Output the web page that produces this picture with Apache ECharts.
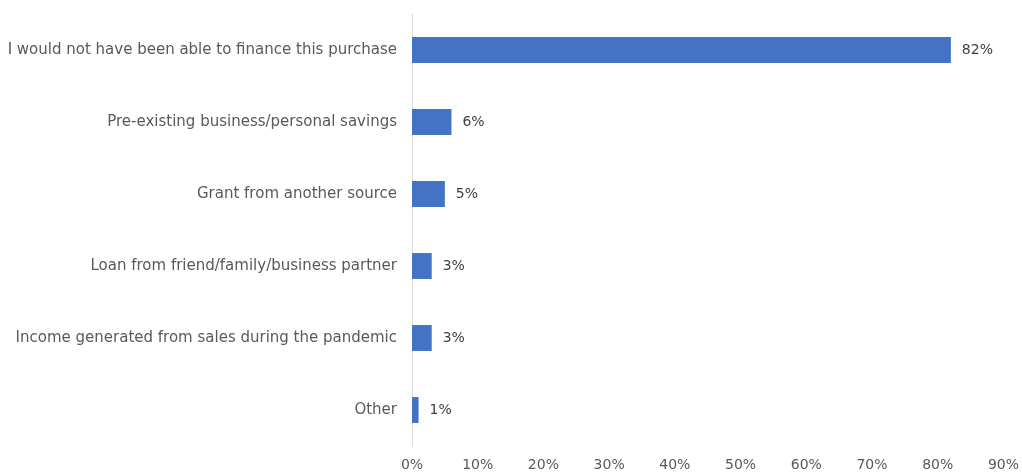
<!DOCTYPE html>
<html>
<head>
<meta charset="utf-8">
<script src="https://cdn.jsdelivr.net/npm/echarts@6/dist/echarts.min.js"></script>
<style>
  html, body { margin: 0; padding: 0; background: #fff; }
  #chart { width: 1022px; height: 475px; }
</style>
</head>
<body>
<div id="chart"></div>
<script>
// Funding sources, listed top to bottom
const categories = [
  'I would not have been able to finance this purchase',
  'Pre-existing business/personal savings',
  'Grant from another source',
  'Loan from friend/family/business partner',
  'Income generated from sales during the pandemic',
  'Other'
];
const shares = [82, 6, 5, 3, 3, 1];
const xTicks = [0, 10, 20, 30, 40, 50, 60, 70, 80, 90];

const FONT = '"DejaVu Sans", "Open Sans", sans-serif';

const chart = echarts.init(document.getElementById('chart'), null, { renderer: 'canvas' });
chart.setOption({
  animation: false,
  grid: { left: 412, right: 17, top: 14, bottom: 29, containLabel: false },
  xAxis: {
    type: 'value',
    min: xTicks[0],
    max: xTicks[xTicks.length - 1],
    interval: xTicks[1] - xTicks[0],
    axisLine: { show: false },
    axisTick: { show: false },
    splitLine: { show: false },
    axisLabel: {
      formatter: v => v + '%',
      color: '#595959',
      fontFamily: FONT,
      fontSize: 14,
      margin: 12
    }
  },
  yAxis: {
    type: 'category',
    inverse: true,
    data: categories,
    axisLine: { show: true, lineStyle: { color: '#d9d9d9', width: 1 } },
    axisTick: { show: false },
    axisLabel: {
      color: '#595959',
      fontFamily: FONT,
      fontSize: 15,
      margin: 15
    }
  },
  series: [{
    type: 'bar',
    data: shares,
    barWidth: '36%',
    itemStyle: { color: '#4472C4' },
    label: {
      show: true,
      position: 'right',
      distance: 11,
      formatter: p => p.value + '%',
      color: '#404040',
      fontFamily: FONT,
      fontSize: 14
    }
  }]
});
</script>
</body>
</html>
